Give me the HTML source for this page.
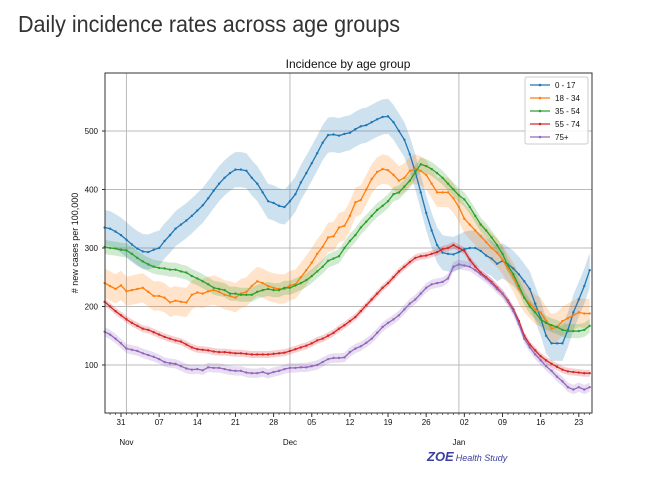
<!DOCTYPE html>
<html><head><meta charset="utf-8"><style>
html,body{margin:0;padding:0;background:#fff;}
svg{display:block;font-family:"Liberation Sans","DejaVu Sans",sans-serif;}
</style></head><body>
<svg id="chart" width="648" height="482" viewBox="0 0 648 482">
<text x="18" y="32" font-size="23" fill="#333" textLength="382" lengthAdjust="spacingAndGlyphs">Daily incidence rates across age groups</text>
<text x="348" y="68" font-size="12" text-anchor="middle" fill="#111">Incidence by age group</text>
<text transform="translate(78,243) rotate(-90)" font-size="9" text-anchor="middle" fill="#111"># new cases per 100,000</text>
<g id="grid"></g><g id="bands"></g><g id="lines"></g><g id="axes"></g><g id="legend"></g>
<rect x="425" y="449" width="90" height="14" fill="#fff"/>
<text x="427" y="461" font-size="13" font-weight="bold" font-style="italic" fill="#3b3f9e">ZOE<tspan font-size="9" font-weight="normal" dx="2">Health Study</tspan></text>
</svg>
<script>
const seriesNames=["0 - 17","18 - 34","35 - 54","55 - 74","75+"];
const seriesColors=["#1f77b4","#ff7f0e","#2ca02c","#d62728","#9467bd"];
const bandWidths=[30,25,12,6,8];
const yTicks=[100,200,300,400,500];
const xTickDays=[3,10,17,24,31,38,45,52,59,66,73,80,87];
const xTickLabels=["31","07","14","21","28","05","12","19","26","02","09","16","23"];
const monthDays=[4,34,65];
const monthLabels=["Nov","Dec","Jan"];
const s0=[335,333,328,322,314,306,299,294,293,297,300,312,322,333,340,347,355,364,373,385,398,410,420,428,434,434,432,420,410,395,380,377,372,370,380,392,412,428,445,462,480,493,494,492,495,497,503,508,510,515,520,524,525,515,500,485,460,430,395,360,330,305,292,290,289,293,298,300,300,295,287,282,273,278,272,265,255,243,230,205,180,150,137,137,137,160,190,212,235,262];
const s1=[240,235,230,236,226,228,230,232,225,218,218,215,207,210,208,207,220,224,222,226,228,225,220,218,215,222,225,235,243,240,235,232,230,230,236,238,250,262,275,290,302,318,320,335,338,355,378,382,400,418,430,435,433,425,415,420,432,435,432,425,410,395,395,395,385,370,350,340,330,320,310,300,292,280,265,250,230,215,205,195,190,175,162,165,175,180,185,190,188,188];
const s2=[302,300,299,297,296,290,283,277,272,268,266,265,263,263,260,258,252,248,243,238,232,230,228,222,222,220,220,220,225,228,230,228,228,232,232,236,240,245,252,260,268,278,282,286,300,312,322,335,345,355,365,372,380,392,395,405,415,430,443,440,435,428,420,410,400,390,383,370,355,340,330,318,305,290,270,255,235,215,200,190,178,172,168,165,160,158,158,158,160,167];
const s3=[208,200,192,185,178,172,167,162,160,156,152,148,145,142,140,135,130,127,126,125,123,122,122,121,120,120,119,118,118,118,118,119,120,121,124,127,130,133,137,142,145,150,155,162,168,175,182,192,202,212,222,232,240,250,260,268,276,283,286,287,290,293,298,300,305,300,295,280,268,258,250,242,232,222,210,195,175,150,135,125,115,108,102,97,92,89,88,87,86,86];
const s4=[157,152,145,137,128,126,124,120,117,114,110,105,103,102,98,94,92,93,91,96,95,95,93,91,90,90,87,86,86,88,85,88,90,93,95,95,96,96,98,100,105,110,112,112,113,122,128,132,138,145,155,165,172,178,185,195,205,212,222,232,238,240,242,248,268,272,270,268,262,255,248,240,230,222,208,192,170,145,130,118,108,98,90,80,72,62,58,62,58,62];
const allSeries=[s0,s1,s2,s3,s4];
const NS="http://www.w3.org/2000/svg";
const L=105,R=592,T=73,B=413;
const X=d=>121+(d-3)*5.45;
const Y=v=>423.5-v*0.585;
function mk(tag,attrs,parent){const e=document.createElementNS(NS,tag);for(const k in attrs)e.setAttribute(k,attrs[k]);parent.appendChild(e);return e;}
const grid=document.getElementById('grid'),bands=document.getElementById('bands'),lines=document.getElementById('lines'),axes=document.getElementById('axes'),legend=document.getElementById('legend');
yTicks.forEach(v=>{
 const g=mk('line',{x1:L,x2:R,y1:Y(v),y2:Y(v),stroke:'#bbb','stroke-width':1},grid);
 
 
 const t=mk('text',{x:L-7,y:Y(v)+3,'font-size':8,'text-anchor':'end',fill:'#111'},axes);t.textContent=v;
 
 
 mk('line',{x1:L-3,x2:L,y1:Y(v),y2:Y(v),stroke:'#333'},axes);
});
monthDays.forEach((d,i)=>{
 const g=mk('line',{x1:X(d),x2:X(d),y1:T,y2:B,stroke:'#bbb','stroke-width':1},grid);
 
 
 const t=mk('text',{x:X(d),y:445,'font-size':8,'text-anchor':'middle',fill:'#111'},axes);t.textContent=monthLabels[i];
 
 
});
const yr=mk('text',{x:X(65),y:455,'font-size':8,'text-anchor':'middle',fill:'#111'},axes);yr.textContent='2022';


for(let d=0;d<90;d++){const x=X(d);if(x>=L&&x<=R)mk('line',{x1:x,x2:x,y1:B,y2:B+2,stroke:'#333','stroke-width':0.7},axes);}
xTickDays.forEach((d,i)=>{
 mk('line',{x1:X(d),x2:X(d),y1:B,y2:B+4,stroke:'#333'},axes);
 const t=mk('text',{x:X(d),y:425,'font-size':8,'text-anchor':'middle',fill:'#111'},axes);t.textContent=xTickLabels[i];
 
 
});
const fr=mk('rect',{x:L,y:T,width:R-L,height:B-T,fill:'none',stroke:'#333','stroke-width':1},axes);


allSeries.forEach((s,k)=>{
 const up=s.map((v,d)=>X(d).toFixed(1)+','+Y(v+bandWidths[k]).toFixed(1));
 const dn=s.map((v,d)=>X(d).toFixed(1)+','+Y(v-bandWidths[k]).toFixed(1)).reverse();
 const b=mk('polygon',{points:up.concat(dn).join(' '),fill:seriesColors[k],'fill-opacity':0.22,stroke:'none'},bands);
 
 
 const pts=s.map((v,d)=>X(d).toFixed(1)+','+Y(v).toFixed(1)).join(' ');
 const p=mk('polyline',{points:pts,fill:'none',stroke:seriesColors[k],'stroke-width':1.3},lines);
 
 
 s.forEach((v,d)=>{const c=mk('circle',{cx:X(d),cy:Y(v),r:1.2,fill:seriesColors[k]},lines);
  
  });
});
const lb=mk('rect',{x:525,y:77,width:63,height:67,fill:'#fff','fill-opacity':0.85,stroke:'#ccc',rx:2},legend);


seriesNames.forEach((n,k)=>{
 const y=85+k*13;
 mk('line',{x1:530,x2:550,y1:y,y2:y,stroke:seriesColors[k],'stroke-width':1.3},legend);
 mk('circle',{cx:540,cy:y,r:1.3,fill:seriesColors[k]},legend);
 const t=mk('text',{x:555,y:y+3,'font-size':8,fill:'#111'},legend);t.textContent=n;
 
 
});
</script>
</body></html>
